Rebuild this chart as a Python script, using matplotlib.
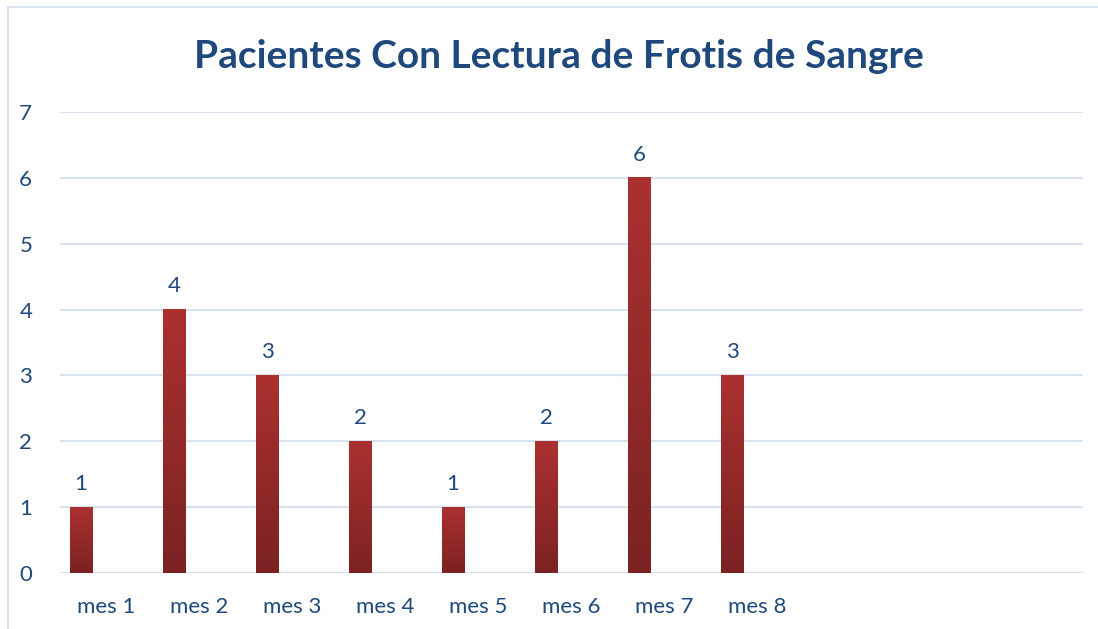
import numpy as np
import matplotlib.pyplot as plt
from matplotlib.patches import Rectangle
from matplotlib.colors import LinearSegmentedColormap

# datos del grafico
meses = ["mes 1", "mes 2", "mes 3", "mes 4", "mes 5", "mes 6", "mes 7", "mes 8"]
pacientes = [1, 4, 3, 2, 1, 2, 6, 3]
n_slots = 11  # el grafico original reserva 11 categorias

azul = "#1F497D"
grid_col = "#D6E2F2"

plt.rcParams['font.family'] = ['Lato', 'DejaVu Sans']

fig = plt.figure(figsize=(10.98, 6.29), dpi=100)
ax = fig.add_axes([60 / 1098, 1 - 573 / 629, 1023 / 1098, 461 / 629])

x = np.arange(len(meses))
offset = -0.274
ancho = 0.237
bars = ax.bar(x + offset, pacientes, width=ancho, color="#952A2A", zorder=3)

# degradado vertical en cada barra
grad = np.linspace(0, 1, 256).reshape(-1, 1)
cmap = LinearSegmentedColormap.from_list("rojo", ["#7B2222", "#AB3130"])
for b in bars:
    x0, y0 = b.get_x(), b.get_y()
    w, h = b.get_width(), b.get_height()
    ax.imshow(grad, extent=[x0, x0 + w, y0, y0 + h], origin="lower",
              cmap=cmap, aspect="auto", zorder=4)
    ax.text(x0 + w / 2, h + 0.2, str(int(h)), ha="center", va="bottom",
            fontsize=16, color=azul, zorder=5)

ax.set_xlim(-0.5, n_slots - 0.5)
ax.set_ylim(0, 7)
ax.set_yticks(range(0, 8))
ax.set_xticks(x)
ax.set_xticklabels(meses)
ax.tick_params(length=0, labelsize=16, labelcolor=azul)
ax.tick_params(axis="y", pad=20)
ax.tick_params(axis="x", pad=17)
ax.grid(axis="y", color=grid_col, linewidth=1.5, zorder=0)
ax.set_axisbelow(True)
for s in ax.spines.values():
    s.set_visible(False)

fig.text(559 / 1098, 1 - 56 / 629, "Pacientes Con Lectura de Frotis de Sangre",
         ha="center", va="center", fontsize=28, fontweight="bold", color=azul)

# marco del grafico
fig.patches.append(Rectangle((8 / 1098, -0.1), 1.2, 1 - 7 / 629 + 0.1,
                             transform=fig.transFigure, fill=False,
                             edgecolor="#D6E2F2", linewidth=1.5))

fig.savefig("out.png", dpi=100)
